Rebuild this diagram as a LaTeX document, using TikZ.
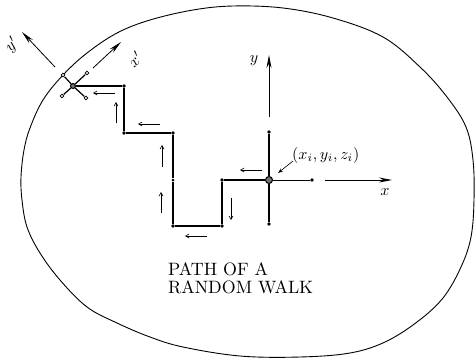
\documentclass[tikz,border=0pt]{standalone}
\usetikzlibrary{arrows.meta}
\begin{document}
\begin{tikzpicture}[x=1pt,y=-1pt,
  dot/.style={circle,fill=black,inner sep=0pt,minimum size=3.6pt},
  odot/.style={circle,draw=black,fill=white,line width=0.8pt,inner sep=0pt,minimum size=3.8pt},
  bigdot/.style={circle,draw=black,fill=black!55,line width=1pt,inner sep=0pt,minimum size=7pt},
  walk/.style={line width=1.2pt},
  dir/.style={line width=0.6pt,-{Straight Barb[length=3.5pt,width=4pt]}},
  axis/.style={line width=0.8pt,-{Stealth[length=13pt,width=5pt]}},
  lab/.style={inner sep=0pt},
  captext/.style={inner sep=0pt,anchor=base west}]
\useasboundingbox (0,0) rectangle (475,360);
% boundary
\draw[line width=0.9pt] plot[smooth cycle, tension=0.6] coordinates {
 (63,75) (87,53) (117,33) (150,20) (193,10) (233,6) (283,8) (333,18) (383,37)
 (420,67) (447,97) (466,127) (473,160) (474,200) (471,237) (461,267)
 (443,298) (417,322) (385,342) (350,353) (300,357) (240,356) (183,347)
 (150,337) (117,323) (87,307) (60,280) (40,253) (27,227) (22,200)
 (21,177) (24,150) (30,128) (43,100)};
% walk nodes
\node[bigdot,minimum size=5pt] (r) at (73,86) {};
\node[dot] (a) at (124,86) {};
\node[dot] (b) at (124,133) {};
\node[dot] (c) at (173,133) {};
\node[dot,minimum size=3pt] (m) at (173,180) {};
\node[dot] (d) at (173,226) {};
\node[dot] (e) at (222,226) {};
\node[dot] (f) at (222,180) {};
\node[bigdot] (o) at (269,180) {};
% central cross
\node[dot] (ou) at (269,132) {};
\node[dot] (od) at (269,224) {};
\node[dot] (or) at (312,180) {};
% rotated cross
\node[odot] (r1) at (63,75) {};
\node[odot] (r2) at (87,73) {};
\node[odot] (r3) at (62,96) {};
\node[odot] (r4) at (86,98) {};
\draw[walk] (r) -- (a) -- (b) -- (c) -- (m) -- (d) -- (e) -- (f) -- (o);
\draw[walk] (ou) -- (o) -- (od);
\draw[line width=0.8pt] (o) -- (or);
\draw[walk] (r1) -- (r) -- (r4);
\draw[walk] (r2) -- (r) -- (r3);
% axes
\coordinate (ys) at (269,117); \coordinate (ye) at (269,55);
\coordinate (xs) at (325,180); \coordinate (xe) at (392,180);
\coordinate (yps) at (55,67); \coordinate (ype) at (22,32);
\coordinate (xps) at (93,68); \coordinate (xpe) at (121,42);
\draw[axis] (ys) -- (ye);
\draw[axis] (xs) -- (xe);
\draw[axis] (yps) -- (ype);
\draw[axis] (xps) -- (xpe);
\node[lab] (ly) at (254,61) {\scalebox{1.6}{$y$}};
\node[lab] (lx) at (385,192) {\scalebox{1.6}{$x$}};
\node[lab,rotate=45] (lyp) at (12,45) {\scalebox{1.6}{$y'$}};
\node[lab,rotate=45] (lxp) at (135,59) {\scalebox{1.6}{$x'$}};
% point label
\node[lab,anchor=west] (pl) at (292,155) {\scalebox{1.6}{$(x_i, y_i, z_i)$}};
\coordinate (pa) at (278,173);
\draw[line width=0.6pt,-{Stealth[length=5pt,width=3.5pt]}] (pl.west) ++(1,6) -- (pa);
% direction arrows
\draw[dir] (115,93) -- (93,93);
\draw[dir] (116,123) -- (116,102);
\draw[dir] (160,124) -- (138,124);
\draw[dir] (162,167) -- (162,145);
\draw[dir] (161,213) -- (161,192);
\draw[dir] (207,236) -- (185,236);
\draw[dir] (231,198) -- (231,220);
\draw[dir] (262,170) -- (240,170);
% caption
\node[captext] (t1) at (168,275) {\scalebox{1.79}{PATH OF A}};
\node[captext] (t2) at (168,293.3) {\scalebox{1.79}{RANDOM WALK}};
\end{tikzpicture}
\end{document}
